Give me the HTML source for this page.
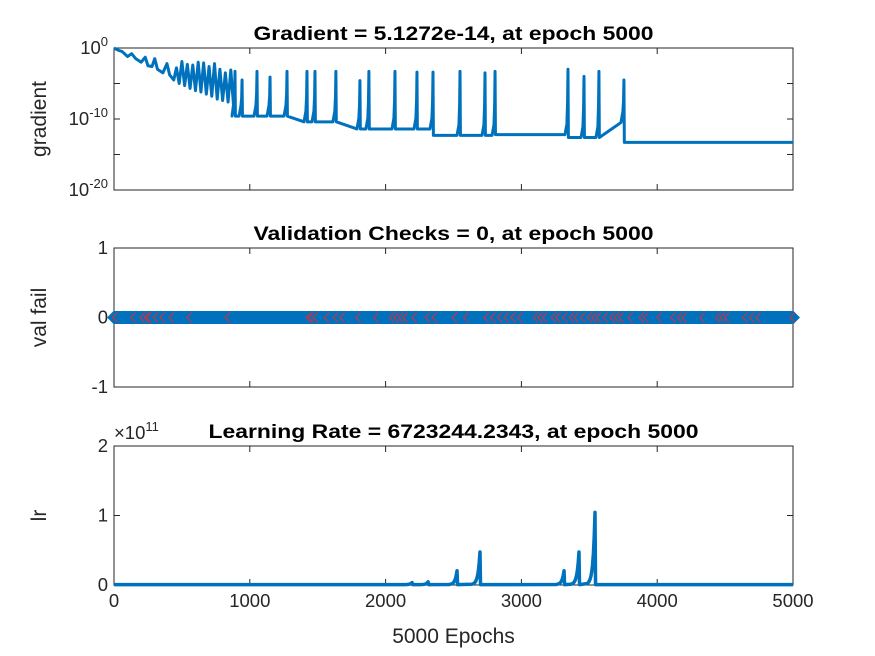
<!DOCTYPE html>
<html><head><meta charset="utf-8"><style>
body{margin:0;background:#fff;}
svg{display:block;font-family:"Liberation Sans",sans-serif;}
</style></head><body>
<svg id="fig" width="875" height="656" viewBox="0 0 875 656"></svg>
<script>
// ---- data ----
const xTicks=[0,1000,2000,3000,4000,5000];
const gradEarlyEpochs=[0,30,60,100,130,160,200,230,250,280,300,320,360,390,410,440,460,480,500,520,540,560,580,600,620,640,660,680,700,720,740,760,780,800,820,840,860,880];
const gradEarlyLog=[0,-0.3,-0.5,-1.2,-0.8,-1.5,-2,-1.3,-2.5,-2.6,-1.5,-3,-3.5,-2.2,-3.8,-4.5,-2.8,-5,-1.9,-5.3,-2.3,-5.7,-2.4,-6,-2,-6.2,-2.1,-6.5,-2.6,-6.8,-2.2,-7.2,-3,-7.4,-3.5,-7.6,-3.1,-8];
const spikeEpochs=[891,943,1053,1149,1274,1421,1480,1634,1811,1877,2069,2231,2349,2548,2732,2806,3343,3461,3571,3755];
const spikeTops=[-3.3,-4.5,-3.3,-4.1,-3.3,-3.3,-3.3,-3.3,-4.6,-3.3,-3.3,-3.4,-3.4,-3.3,-3.5,-3.3,-3.0,-4.0,-3.3,-4.5];
const baseEnds=[1300,1800,2350,2806,3343,3600,3755,5001];
const baseLevels=[-9.6,-10.4,-11.4,-12.3,-12.2,-12.6,-10.5,-13.29];
const failEpochs=[13,145,212,245,261,311,361,427,559,841,1437,1454,1487,1570,1636,1685,1801,1934,2050,2083,2116,2149,2215,2314,2364,2513,2596,2745,2795,2845,2894,2944,2994,3110,3143,3176,3242,3275,3325,3375,3408,3457,3507,3540,3573,3623,3673,3706,3739,3805,3888,3921,4020,4120,4169,4203,4335,4451,4484,4517,4650,4700,4749,5000];
const lrPeakEpochs=[2195,2313,2526,2695,3314,3424,3542];
const lrPeakValues=[0.03,0.04,0.2,0.47,0.2,0.47,1.04];
const lrBase=0.005;

const NS="http://www.w3.org/2000/svg";
const svg=document.getElementById('fig');
function mk(tag,attrs,parent){const e=document.createElementNS(NS,tag);for(const k in attrs)e.setAttribute(k,attrs[k]);(parent||svg).appendChild(e);return e;}
const X0=114,X1=793;
const xs=e=>X0+(e/5000)*(X1-X0);
const panels=[{top:48,bot:190},{top:248,bot:387},{top:446,bot:585}];
const ax=(p,lo,hi)=>v=>p.bot-(v-lo)/(hi-lo)*(p.bot-p.top);
const y1=ax(panels[0],-20,0),y2=ax(panels[1],-1,1),y3=ax(panels[2],0,2);
const BL='#0072bd';

function frame(p,name,title,tlen,ylabel,yt,yfn,ylabels,showX){
  const g=mk('g',{});
  
  
  let r=mk('rect',{x:X0,y:p.top,width:X1-X0,height:p.bot-p.top,fill:'#fff',stroke:'#262626','stroke-width':1},g);
  
  xTicks.forEach(t=>{const x=xs(t);mk('line',{x1:x,x2:x,y1:p.bot,y2:p.bot-6,stroke:'#262626'},g);mk('line',{x1:x,x2:x,y1:p.top,y2:p.top+6,stroke:'#262626'},g);
    if(showX){const tx=mk('text',{x:x,y:p.bot+22,'text-anchor':'middle','font-size':18.5,fill:'#262626'},g);tx.textContent=t;
      }});
  yt.forEach(v=>{const y=yfn(v);mk('line',{x1:X0,x2:X0+6,y1:y,y2:y,stroke:'#262626'},g);mk('line',{x1:X1,x2:X1-6,y1:y,y2:y,stroke:'#262626'},g);});
  ylabels.forEach(([v,html])=>{const t=mk('text',{x:X0-6,y:yfn(v)+6,'text-anchor':'end','font-size':18.5,fill:'#262626'},g);t.innerHTML=html;
    });
  const tt=mk('text',{x:(X0+X1)/2,y:p.top-8,'text-anchor':'middle','font-size':19,'font-weight':'bold',fill:'#000',textLength:tlen,lengthAdjust:'spacingAndGlyphs'},g);tt.textContent=title;
  
  const yl=mk('text',{x:0,y:0,'text-anchor':'middle','font-size':21,fill:'#262626',transform:`translate(${X0-68},${(p.top+p.bot)/2}) rotate(-90)`},g);yl.textContent=ylabel;
  
}
frame(panels[0],'gradient-panel','Gradient = 5.1272e-14, at epoch 5000',400,'gradient',[0,-5,-10,-15,-20],y1,
  [[0,'10<tspan dy="-8" font-size="13">0</tspan>'],[-10,'10<tspan dy="-8" font-size="13">-10</tspan>'],[-20,'10<tspan dy="-8" font-size="13">-20</tspan>']],false);
frame(panels[1],'validation-panel','Validation Checks = 0, at epoch 5000',400,'val fail',[-1,0,1],y2,[[1,'1'],[0,'0'],[-1,'-1']],false);
frame(panels[2],'learning-rate-panel','Learning Rate = 6723244.2343, at epoch 5000',490,'lr',[0,1,2],y3,[[2,'2'],[1,'1'],[0,'0']],true);

// gradient series
function baseAt(e){for(let i=0;i<baseEnds.length;i++)if(e<baseEnds[i])return baseLevels[i];return baseLevels[baseLevels.length-1];}
let pts=gradEarlyEpochs.map((e,i)=>[e,gradEarlyLog[i]]);
spikeEpochs.forEach((e,i)=>{
  const b=baseAt(e-1);
  pts.push([e-22,b],[e-8,b+1.5],[e-3,(b+spikeTops[i])/2],[e,spikeTops[i]],[e+3,baseAt(e+1)]);
});
pts.push([5000,baseAt(5000)]);
const gl=mk('polyline',{points:pts.map(p=>xs(p[0])+','+y1(p[1])).join(' '),fill:'none',stroke:BL,'stroke-width':3,'stroke-linejoin':'round'});


// validation
const vl=mk('line',{x1:xs(0),x2:xs(5000),y1:y2(0),y2:y2(0),stroke:BL,'stroke-width':13});

[0,5000].forEach(e=>{const d=mk('polygon',{points:`${xs(e)-7},${y2(0)} ${xs(e)},${y2(0)-7} ${xs(e)+7},${y2(0)} ${xs(e)},${y2(0)+7}`,fill:BL});
  });
failEpochs.forEach(e=>{const x=xs(e),y=y2(0);
  const m=mk('polyline',{points:`${x+2},${y-5} ${x-3},${y} ${x+2},${y+5}`,fill:'none',stroke:'#ff2020','stroke-width':1.2,opacity:0.8});
  });

// learning rate
let lp=[[0,lrBase]];
lrPeakEpochs.forEach((e,i)=>{const v=lrPeakValues[i];
  for(let k=60;k>=0;k-=6){lp.push([e-k,lrBase+v*Math.exp(-k/14)]);}
  lp.push([e+4,lrBase]);});
lp.push([5000,lrBase]);
const ll=mk('polyline',{points:lp.map(p=>xs(p[0])+','+y3(p[1])).join(' '),fill:'none',stroke:BL,'stroke-width':3.5,'stroke-linejoin':'round'});


const ex=mk('text',{x:X0,y:panels[2].top-7,'font-size':18.5,fill:'#262626'});
ex.innerHTML='×10<tspan dy="-8" font-size="13">11</tspan>';

const xl=mk('text',{x:(X0+X1)/2,y:643,'text-anchor':'middle','font-size':21,fill:'#262626'});
xl.textContent='5000 Epochs';

</script>
</body></html>
